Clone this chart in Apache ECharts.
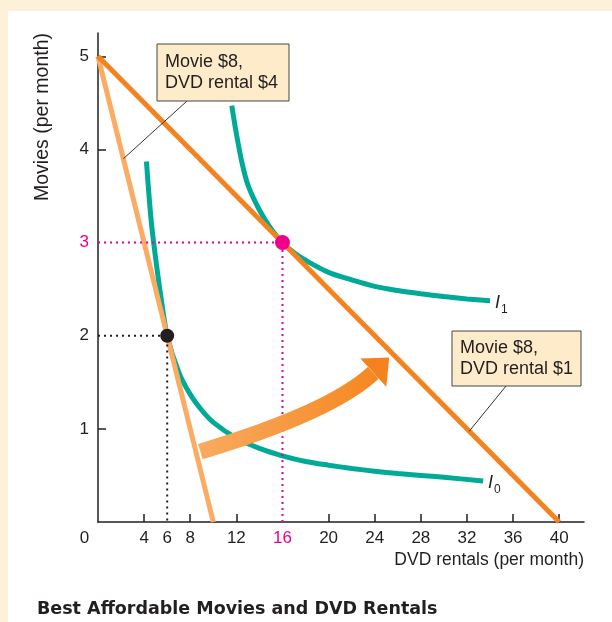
<!DOCTYPE html>
<html><head><meta charset="utf-8">
<script src="https://cdn.jsdelivr.net/npm/echarts@6/dist/echarts.min.js"></script>
<style>html,body{margin:0;padding:0;background:#fef1da}#c{width:612px;height:622px}</style>
</head><body><div id="c"></div>
<script>
// ---- data ----
const chartTitle = 'Best Affordable Movies and DVD Rentals';
const xAxisName = 'DVD rentals (per month)';
const yAxisName = 'Movies (per month)';
const xTickLabels = [0, 4, 6, 8, 12, 16, 20, 24, 28, 32, 36, 40];
const xTickMarks = [4, 8, 12, 20, 24, 28, 32, 36, 40];
const yTickLabels = [1, 2, 3, 4, 5];
const yTickMarks = [1, 4, 5];
const budgetDvd4 = [[0, 5], [10, 0]];
const budgetDvd1 = [[0, 5], [40, 0]];
const curveI0 = [[4.2, 3.87], [4.6, 3.25], [5.0, 2.83], [5.5, 2.38], [6, 2.0], [7, 1.61], [8, 1.37], [9, 1.2], [10, 1.07], [12, 0.9], [14, 0.79], [16, 0.71], [18, 0.65], [20, 0.61], [22, 0.575], [24, 0.545], [26, 0.52], [28, 0.5], [30, 0.48], [33.4, 0.44]];
const curveI1 = [[11.6, 4.47], [12, 4.17], [12.5, 3.85], [13, 3.62], [14, 3.35], [15, 3.15], [16, 3.0], [17, 2.89], [18, 2.81], [20, 2.68], [22, 2.6], [24, 2.53], [26, 2.485], [28, 2.45], [30, 2.42], [32, 2.395], [34, 2.375]];
const bestAt4 = [6, 2];
const bestAt1 = [16, 3];
const box1Lines = ['Movie $8,', 'DVD rental $4'];
const box2Lines = ['Movie $8,', 'DVD rental $1'];

// ---- style ----
const FONT = 'Liberation Sans';
const INK = '#231f20';
const PINK = '#ec008c';
const DARK_OR = '#f4821f';
const LIGHT_OR = '#fbab62';
const TEAL = '#00aa96';
const CREAM = '#fef1da';
const BOXFILL = '#fdebc9';

const chart = echarts.init(document.getElementById('c'), null, {renderer: 'canvas'});

chart.setOption({
  animation: false,
  backgroundColor: CREAM,
  title: {text: chartTitle, left: 32, top: 595, textStyle: {fontFamily: 'DejaVu Sans', fontSize: 17.5, fontWeight: 'bold', color: INK}},
  grid: {left: 98, right: 28, top: 33, bottom: 100},
  xAxis: {
    type: 'value', min: 0, max: 42.15,
    axisLine: {lineStyle: {color: INK, width: 1.5}},
    axisTick: {show: true, inside: true, length: 8, customValues: xTickMarks, lineStyle: {color: INK, width: 1.5}},
    axisLabel: {
      customValues: xTickLabels, margin: 8, fontFamily: FONT, fontSize: 17, color: INK,
      formatter: v => v === 0 ? '{z|0}' : (v === bestAt1[0] ? '{p|' + v + '}' : String(v)),
      rich: {z: {fontFamily: FONT, fontSize: 17, color: INK, padding: [0, 27, 0, 0]}, p: {fontFamily: FONT, fontSize: 17, color: PINK}}
    },
    splitLine: {show: false},
    name: xAxisName, nameLocation: 'end', nameGap: 0,
    nameTextStyle: {align: 'right', verticalAlign: 'top', padding: [29, 0, 0, 0], fontFamily: FONT, fontSize: 17.5, color: INK}
  },
  yAxis: {
    type: 'value', min: 0, max: 5.25,
    axisLine: {show: true, lineStyle: {color: INK, width: 1.5}},
    axisTick: {show: true, inside: true, length: 8, customValues: yTickMarks, lineStyle: {color: INK, width: 1.5}},
    axisLabel: {
      customValues: yTickLabels, margin: 9, fontFamily: FONT, fontSize: 17, color: INK,
      formatter: v => v === bestAt1[1] ? '{p|' + v + '}' : String(v),
      rich: {p: {fontFamily: FONT, fontSize: 17, color: PINK}}
    },
    splitLine: {show: false}
  },
  series: [
    {type: 'line', data: curveI0, smooth: 0.3, showSymbol: false, lineStyle: {color: TEAL, width: 5}, z: 2},
    {type: 'line', data: curveI1, smooth: 0.3, showSymbol: false, lineStyle: {color: TEAL, width: 5}, z: 2},
    {type: 'line', data: budgetDvd4, showSymbol: false, lineStyle: {color: LIGHT_OR, width: 5}, z: 3},
    {type: 'line', data: budgetDvd1, showSymbol: false, lineStyle: {color: DARK_OR, width: 5}, z: 3},
    {type: 'line', data: [[0, bestAt4[1]], bestAt4, [bestAt4[0], 0]], showSymbol: false, lineStyle: {color: INK, width: 2, type: [2, 4]}, z: 4},
    {type: 'line', data: [[0, bestAt1[1]], bestAt1, [bestAt1[0], 0]], showSymbol: false, lineStyle: {color: PINK, width: 2, type: [2, 4]}, z: 4},
    {type: 'scatter', data: [bestAt4], symbolSize: 14, itemStyle: {color: INK, opacity: 1}, z: 6},
    {type: 'scatter', data: [bestAt1], symbolSize: 15, itemStyle: {color: PINK, opacity: 1}, z: 6}
  ]
});

const P = (x, y) => chart.convertToPixel({gridIndex: 0}, [x, y]);

// arrow defined in data coordinates
const tail = P(8.88, 0.755), ctrl = P(20.2, 1.176), headBase = P(23.87, 1.6);
const tip = P(25.26, 1.765), c1 = P(22.75, 1.756), c2 = P(25.0, 1.453);
const lead1 = P(2.2, 3.9), lead2 = P(32.2, 0.975);
const endI1 = P(34, 2.375), endI0 = P(33.4, 0.44);

function box(x, y, w, h, lines) {
  return [
    {type: 'rect', shape: {x: x, y: y, width: w, height: h}, style: {fill: BOXFILL, stroke: '#444', lineWidth: 1}, z: 20},
    {type: 'text', x: x + 8, y: y + h / 2, z: 21, style: {text: lines.join('\n'), fontFamily: FONT, fontSize: 18, fill: INK, lineHeight: 21, verticalAlign: 'middle', align: 'left'}}
  ];
}

chart.setOption({
  graphic: [
    {type: 'rect', shape: {x: 8, y: 11, width: 604, height: 611}, style: {fill: '#ffffff'}, z: -10, silent: true},
    {type: 'text', x: 43, y: 117, rotation: Math.PI / 2, style: {text: yAxisName, fontFamily: FONT, fontSize: 19.5, fill: INK, align: 'center', verticalAlign: 'middle'}},
    {type: 'line', shape: {x1: 187, y1: 101, x2: lead1[0], y2: lead1[1]}, style: {stroke: '#333', lineWidth: 1}, z: 19},
    {type: 'line', shape: {x1: 506, y1: 386, x2: lead2[0], y2: lead2[1]}, style: {stroke: '#333', lineWidth: 1}, z: 19},
    ...box(157, 44, 132, 57, box1Lines),
    ...box(452, 331, 129, 55, box2Lines),
    {type: 'bezierCurve', shape: {x1: tail[0], y1: tail[1], cpx1: ctrl[0], cpy1: ctrl[1], x2: headBase[0], y2: headBase[1]}, z: 15,
      style: {fill: null, lineWidth: 16, lineCap: 'butt', stroke: new echarts.graphic.LinearGradient(0, 0, 1, 0, [{offset: 0, color: '#f9ab63'}, {offset: 1, color: '#f5871f'}])}},
    {type: 'polygon', shape: {points: [tip, c1, c2]}, style: {fill: '#f4821e'}, z: 15},
    {type: 'text', x: endI1[0] + 5, y: endI1[1] + 2, style: {text: 'I', fontFamily: FONT, fontStyle: 'italic', fontSize: 18, fill: INK, verticalAlign: 'middle'}},
    {type: 'text', x: endI1[0] + 11, y: endI1[1] + 9, style: {text: '1', fontFamily: FONT, fontSize: 12, fill: INK, verticalAlign: 'middle'}},
    {type: 'text', x: endI0[0] + 5, y: endI0[1] + 2, style: {text: 'I', fontFamily: FONT, fontStyle: 'italic', fontSize: 18, fill: INK, verticalAlign: 'middle'}},
    {type: 'text', x: endI0[0] + 11, y: endI0[1] + 9, style: {text: '0', fontFamily: FONT, fontSize: 12, fill: INK, verticalAlign: 'middle'}}
  ]
});
</script></body></html>
